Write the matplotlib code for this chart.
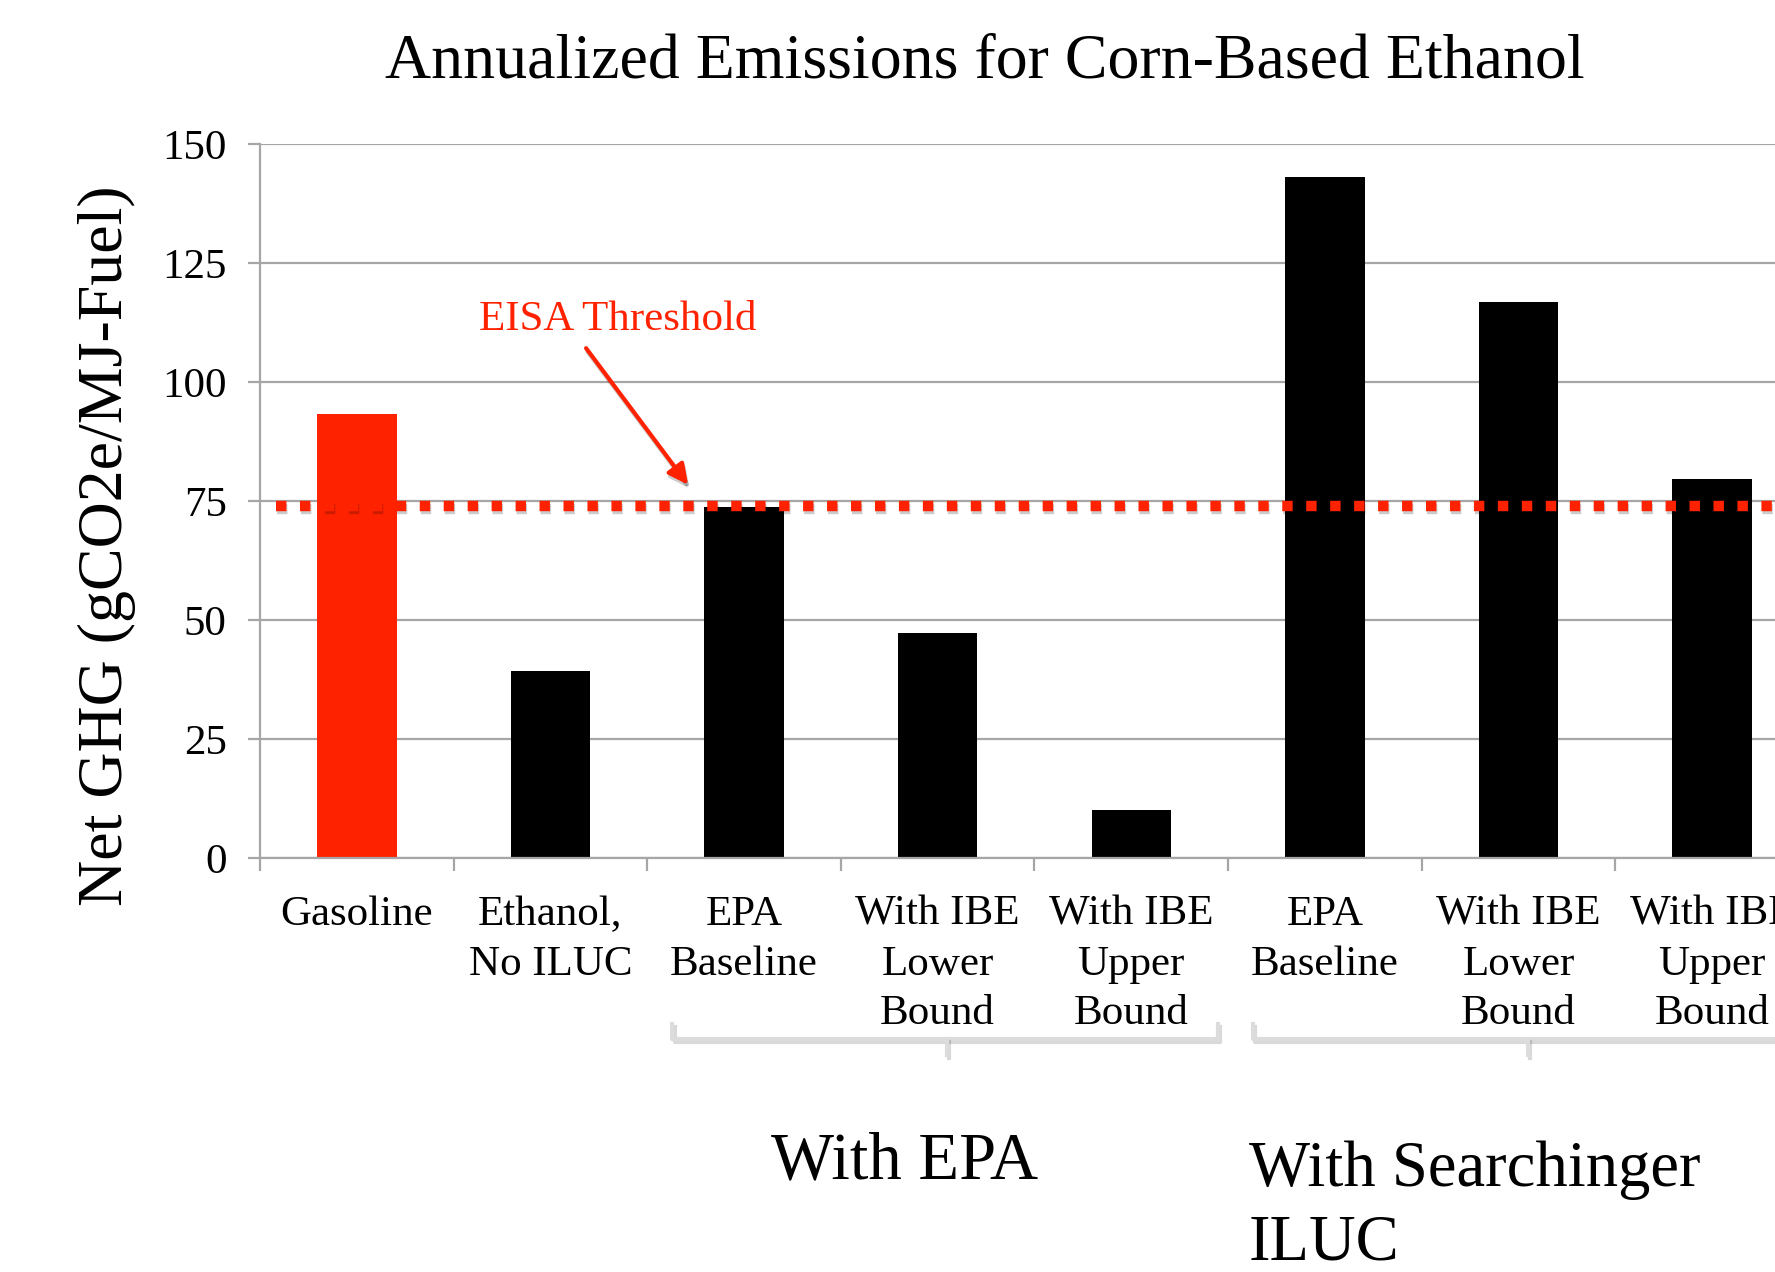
import matplotlib.pyplot as plt
import matplotlib.patheffects as pe
from matplotlib.transforms import blended_transform_factory

plt.rcParams["font.family"] = ["Liberation Serif", "DejaVu Serif"]

categories = [
    "Gasoline",
    "Ethanol,\nNo ILUC",
    "EPA\nBaseline",
    "With IBE\nLower\nBound",
    "With IBE\nUpper\nBound",
    "EPA\nBaseline",
    "With IBE\nLower\nBound",
    "With IBE\nUpper\nBound",
]
emissions = [93.2, 39.2, 73.7, 47.3, 10.0, 143.1, 116.7, 79.6]
bar_colors = ["#ff2200"] + ["black"] * 7
eisa_threshold = 74.0
y_ticks = [0, 25, 50, 75, 100, 125, 150]

# group brackets under the category labels: (first, last, label)
groups = [(2, 4, "With EPA"), (5, 7, "With Searchinger\nILUC")]

RED = "#ff2200"
GRID = "#a6a6a6"

fig = plt.figure(figsize=(17.75, 12.72), dpi=100)
# axes run a little past the right edge of the figure
ax = fig.add_axes([0.1465, 0.3255, 0.8726, 0.5613])

x = range(len(categories))
ax.bar(x, emissions, width=0.41, color=bar_colors, zorder=2)

ax.set_xlim(-0.5, len(categories) - 0.5)
ax.set_ylim(0, 150)
ax.set_yticks(y_ticks)
ax.yaxis.grid(True, color=GRID, linewidth=1.6, zorder=0)
ax.set_axisbelow(True)

for side in ("top", "right"):
    ax.spines[side].set_visible(False)
for side in ("left", "bottom"):
    ax.spines[side].set_color(GRID)
    ax.spines[side].set_linewidth(1.6)

ax.tick_params(axis="y", length=9, width=1.6, color=GRID, pad=15, labelsize=31)
ax.set_xticks(list(x))
ax.set_xticklabels(categories, fontsize=31, linespacing=1.38)
ax.tick_params(axis="x", which="major", length=0, pad=27)
ax.set_xticks([i - 0.5 for i in range(len(categories) + 1)], minor=True)
ax.tick_params(axis="x", which="minor", length=9, width=1.6, color=GRID)

ax.set_ylabel("Net GHG (gCO2e/MJ-Fuel)", fontsize=46)
ax.yaxis.set_label_coords(-0.080, 0.437)
fig.text(0.555, 0.951, "Annualized Emissions for Corn-Based Ethanol",
         ha="center", va="center", fontsize=46)

# EISA threshold as a dotted red line with a soft drop shadow
line_fx = [pe.SimpleLineShadow(offset=(1, -2.5), shadow_color="black", alpha=0.2),
           pe.Normal()]
ax.plot([-0.42, len(categories) - 0.5], [eisa_threshold, eisa_threshold],
        color=RED, linewidth=7.5, linestyle=(0, (1, 1.3)),
        dash_capstyle="butt", zorder=4, path_effects=line_fx, clip_on=False)

ax.text(1.35, 113, "EISA Threshold", ha="center", va="center",
        fontsize=31, color=RED, zorder=5)
ax.annotate("", xy=(1.711, 78.4), xytext=(1.184, 107.1),
            arrowprops=dict(arrowstyle="-|>", color=RED, lw=3,
                            mutation_scale=30, shrinkA=0, shrinkB=0,
                            path_effects=line_fx),
            zorder=5)

# brackets and captions for the ILUC groups
trans = blended_transform_factory(ax.transData, fig.transFigure)
y_top = 1 - 1024 / 1272
y_mid = 1 - 1039 / 1272
y_tip = 1 - 1055 / 1272
bracket_fx = [pe.SimpleLineShadow(offset=(1.5, -2), shadow_color="black", alpha=0.15),
              pe.Normal()]
for first, last, label in groups:
    x0, x1 = first - 0.37, last + 0.45
    xc = (first + last) / 2 + 0.05
    ax.plot([x0, x0, x1, x1], [y_top, y_mid, y_mid, y_top], transform=trans,
            color="#dcdcdc", linewidth=3, clip_on=False, path_effects=bracket_fx,
            solid_joinstyle="round")
    ax.plot([xc, xc], [y_mid, y_tip], transform=trans, color="#dcdcdc",
            linewidth=3, clip_on=False, path_effects=bracket_fx)

ax.text(2.83, 1 - 1162 / 1272, groups[0][2], transform=trans,
        ha="center", va="center", fontsize=48)
ax.text(4.607, 1 - 1141 / 1272, groups[1][2], transform=trans,
        ha="left", va="top", fontsize=46.5, linespacing=1.3)

fig.savefig("out.png", dpi=100)
